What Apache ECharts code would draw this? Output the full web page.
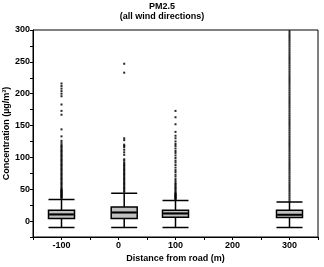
<!DOCTYPE html>
<html>
<head>
<meta charset="utf-8">
<script src="https://cdn.jsdelivr.net/npm/echarts@6/dist/echarts.min.js"></script>
<style>
  html, body { margin: 0; padding: 0; background: #fff; }
  #chart { width: 324px; height: 267px; }
</style>
</head>
<body>
<div id="chart"></div>
<script>
// distance from road (m) where each box sits
const positions = [-100, 10, 100, 300]
// [min, Q1, median, Q3, max]
const boxStats = [
  [-10, 4, 10.5, 17, 34],
  [-10, 4, 13.5, 22, 43.5],
  [-10, 6, 12, 17, 32.5],
  [-10, 5.5, 10, 17, 30]
]
// outlier points per box
const outliersM100 = [36, 37, 38, 39, 40, 41, 42, 43, 44, 45, 46, 47, 48, 49, 50, 52, 54, 56, 58, 60, 62, 64, 66, 68, 70, 72, 74, 76, 78, 80, 82, 84, 86, 88, 90, 92, 94, 96, 98, 100, 102, 104, 106, 108, 110, 112, 114, 116, 118, 120, 123, 126, 133, 144, 167, 173, 183, 196, 200, 204, 208, 212, 216]
const outliers0 = [46, 48, 50, 52, 54, 56, 58, 60, 62, 64, 66, 68, 70, 72, 74, 76, 78, 80, 82, 84, 86, 88, 90, 92, 95, 97, 104, 108, 112, 116, 118, 120, 127, 130, 233, 247]
const outliers100 = [34, 35, 36, 37, 38, 39, 40, 41, 42, 43, 44, 46, 48, 50, 52, 54, 56, 58, 60, 63, 66, 70, 73, 77, 80, 84, 88, 92, 95, 99, 103, 107, 110, 114, 118, 121, 125, 130, 134, 140, 152, 163, 173]
const outliers300 = [31, 34, 37, 40, 43, 46, 49, 52, 55, 58, 61, 64, 67, 70, 73, 76, 79, 82, 85, 88, 91, 94, 97, 100, 103, 106, 109, 112, 115, 118, 121, 124, 127, 130, 133, 136, 139, 142, 145, 148, 151, 154, 157, 160, 163, 166, 169, 172, 175, 178, 181, 184, 187, 190, 193, 196, 199, 202, 205, 208, 211, 214, 217, 220, 223, 226, 229, 232, 235, 238, 241, 244, 247, 250, 253, 256, 259, 262, 265, 268, 271, 274, 277, 280, 283, 286, 289, 292, 295, 298]
const outlierLists = [outliersM100, outliers0, outliers100, outliers300]

let boxData = boxStats.map((s, i) => [positions[i]].concat(s))
let medianData = boxStats.map((s, i) => [positions[i], s[2]])
let outlierData = []
outlierLists.forEach((list, i) => {
  list.forEach(v => outlierData.push([positions[i], v]))
})

const font = 'Liberation Sans'
let chart = echarts.init(document.getElementById('chart'))
let option = {
  animation: false,
  title: {
    text: 'PM2.5\n(all wind directions)',
    left: 'center',
    top: 1,
    padding: 0,
    textStyle: {
      fontFamily: font,
      fontSize: 9,
      fontWeight: 'bold',
      color: '#000',
      lineHeight: 10.5
    }
  },
  grid: {
    left: 33,
    right: 6,
    top: 30,
    bottom: 30,
    outerBoundsMode: 'none',
    containLabel: false,
    show: true,
    borderColor: '#000',
    borderWidth: 1
  },
  xAxis: {
    type: 'value',
    min: -150,
    max: 350,
    interval: 50,
    name: 'Distance from road (m)',
    nameLocation: 'middle',
    nameGap: 17,
    nameMoveOverlap: false,
    nameTextStyle: { fontFamily: font, fontSize: 9, fontWeight: 'bold', color: '#000' },
    axisLine: { onZero: false, lineStyle: { color: '#000', width: 1 } },
    axisTick: { show: true, length: 3, lineStyle: { color: '#000' } },
    splitLine: { show: false },
    axisLabel: {
      margin: 4,
      fontFamily: font,
      fontSize: 9,
      fontWeight: 'bold',
      color: '#000',
      formatter (v) {
        return v % 100 === 0 ? String(v) : ''
      }
    }
  },
  yAxis: {
    type: 'value',
    min: -25,
    max: 300,
    interval: 25,
    name: 'Concentration (µg/m³)',
    nameLocation: 'middle',
    nameGap: 22,
    nameMoveOverlap: false,
    nameTextStyle: { fontFamily: font, fontSize: 9, fontWeight: 'bold', color: '#000' },
    axisLine: { show: true, onZero: false, lineStyle: { color: '#000', width: 1 } },
    axisTick: { show: true, length: 3, lineStyle: { color: '#000' } },
    splitLine: { show: false },
    axisLabel: {
      margin: 3,
      fontFamily: font,
      fontSize: 9,
      fontWeight: 'bold',
      color: '#000',
      formatter (v) {
        return v % 50 === 0 && v >= 0 ? String(v) : ''
      }
    }
  },
  series: [
    {
      type: 'boxplot',
      layout: 'horizontal',
      data: boxData,
      boxWidth: [26, 26],
      itemStyle: {
        color: '#c0c0c0',
        borderColor: '#000',
        borderWidth: 1.5
      },
      z: 3
    },
    {
      type: 'scatter',
      data: medianData,
      symbol: 'rect',
      symbolSize: [24, 2],
      itemStyle: { color: '#000' },
      z: 4
    },
    {
      type: 'scatter',
      data: outlierData,
      symbol: 'rect',
      symbolSize: [2, 2],
      itemStyle: { color: '#000', opacity: 0.85 },
      z: 2
    }
  ]
}
chart.setOption(option)
</script>
</body>
</html>
